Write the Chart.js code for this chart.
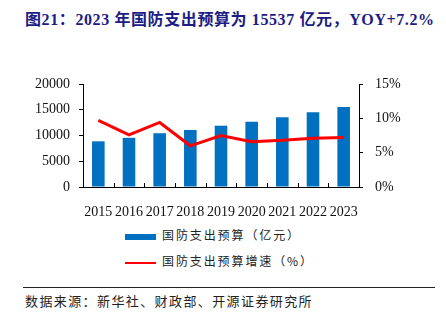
<!DOCTYPE html>
<html>
<head>
<meta charset="utf-8">
<script src="https://cdn.jsdelivr.net/npm/chart.js@4"></script>
<style>
  body { margin: 0; width: 446px; height: 322px; background: #fff; position: relative; overflow: hidden; }
  #title { position: absolute; left: 25px; top: 6px; font: bold 16px "Liberation Serif", "Noto Sans CJK SC"; letter-spacing: 0.6px; color: #1c1c84; white-space: nowrap; }
  #box { position: absolute; left: 0; top: 40px; width: 446px; height: 180px; }
  .lg { position: absolute; left: 125px; font: 12px "Noto Sans CJK SC"; letter-spacing: 1.9px; color: #222; white-space: nowrap; }
  .lg i { display: inline-block; width: 31px; margin-right: 6px; vertical-align: middle; }
  #rule { position: absolute; left: 23px; top: 287px; width: 412px; height: 1px; background: #222; }
  #src { position: absolute; left: 25px; top: 291px; font: 13px "Noto Sans CJK SC"; letter-spacing: 1.4px; color: #222; white-space: nowrap; }
</style>
</head>
<body>
<div id="title">图21：2023 年国防支出预算为 15537 亿元，YOY+7.2%</div>
<div id="box"><canvas id="c" width="446" height="180"></canvas></div>
<div class="lg" style="top:226px"><i style="height:6px;background:#0070c0"></i>国防支出预算（亿元）</div>
<div class="lg" style="top:252px"><i style="height:2px;background:#ff0000"></i>国防支出预算增速（%）</div>
<div id="rule"></div>
<div id="src">数据来源：新华社、财政部、开源证券研究所</div>
<script>
// 年份
const years = ['2015', '2016', '2017', '2018', '2019', '2020', '2021', '2022', '2023'];
// 国防支出预算（亿元）
const budget = [8869, 9544, 10444, 11070, 11899, 12680, 13553, 14505, 15537];
// 增速（%）
const growth = [9.7, 7.6, 9.4, 6.0, 7.5, 6.6, 6.8, 7.1, 7.2];

const tickFont = { family: 'Liberation Serif', size: 14 };

// x轴内侧刻度
const innerTicks = {
  id: 'innerTicks',
  afterDraw(chart) {
    const x = chart.scales.x, ctx = chart.ctx;
    const w = (x.right - x.left) / years.length;
    ctx.save();
    ctx.strokeStyle = '#000';
    ctx.lineWidth = 1;
    for (let k = 1; k <= years.length; k++) {
      const p = Math.round(x.left + k * w) + 0.5;
      ctx.beginPath();
      ctx.moveTo(p, x.top);
      ctx.lineTo(p, x.top - 4);
      ctx.stroke();
    }
    ctx.restore();
  }
};

new Chart(document.getElementById('c'), {
  data: {
    labels: years,
    datasets: [
      {
        type: 'line',
        label: '国防支出预算增速（%）',
        data: growth,
        yAxisID: 'y1',
        borderColor: '#ff0000',
        borderWidth: 3,
        pointRadius: 0,
        tension: 0
      },
      {
        type: 'bar',
        label: '国防支出预算（亿元）',
        data: budget,
        yAxisID: 'y',
        backgroundColor: '#0070c0',
        barPercentage: 0.41,
        categoryPercentage: 1
      }
    ]
  },
  options: {
    responsive: false,
    animation: false,
    layout: { padding: { top: 44, left: 0, right: 0, bottom: 0 } },
    plugins: { legend: { display: false }, tooltip: { enabled: false } },
    scales: {
      x: {
        grid: { display: false },
        border: { color: '#000' },
        ticks: { color: '#111', font: tickFont, padding: 9, maxRotation: 0, autoSkip: false },
        afterFit(s) { s.height = 33; }
      },
      y: {
        position: 'left',
        min: 0, max: 20000,
        grid: { drawOnChartArea: false, tickLength: 4, color: '#000' },
        border: { color: '#000' },
        ticks: { stepSize: 5000, color: '#111', font: tickFont, padding: 9, callback: v => String(v) },
        afterFit(s) { s.width = 83; }
      },
      y1: {
        position: 'right',
        min: 0, max: 15,
        grid: { drawOnChartArea: false, tickLength: 4, color: '#000' },
        border: { color: '#000' },
        ticks: { stepSize: 5, color: '#111', font: tickFont, padding: 12, callback: v => v + '%' },
        afterFit(s) { s.width = 87; }
      }
    }
  },
  plugins: [innerTicks]
});
</script>
</body>
</html>
